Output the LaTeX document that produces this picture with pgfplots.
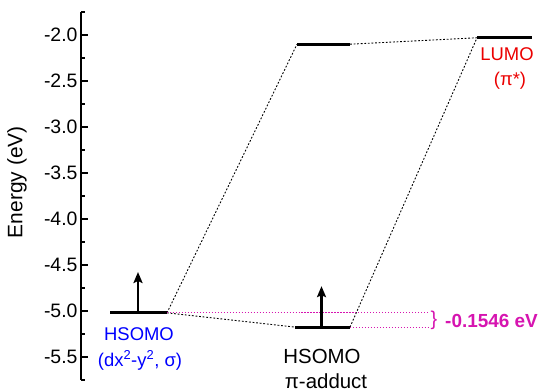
\documentclass[border=0pt]{standalone}
\usepackage{fontspec}
\setmainfont{Liberation Sans}
\usepackage{pgfplots}
\pgfplotsset{compat=1.18}
\usetikzlibrary{arrows.meta}
\definecolor{mag}{RGB}{214,20,176}
\definecolor{lblue}{RGB}{0,0,255}
\definecolor{lred}{RGB}{235,0,0}
\begin{document}
\begin{tikzpicture}
\path[use as bounding box] (0,0) rectangle (543bp,392bp);
\begin{axis}[
  at={(81bp,12bp)}, anchor=south west,
  scale only axis, width=462bp, height=368bp,
  xmin=81, xmax=543, ymin=-5.75, ymax=-1.75,
  axis x line=none, axis y line=left,
  axis line style={-, line width=1.5pt},
  tick align=inside,
  major tick length=6.5bp, minor tick length=4bp,
  every tick/.style={black, line width=1.4pt},
  ytick={-5.5,-5,...,-2},
  minor ytick={-5.75,-5.25,...,-1.75},
  yticklabel style={font=\fontsize{19.5}{21}\selectfont, /pgf/number format/fixed, /pgf/number format/fixed zerofill, /pgf/number format/precision=1},
  /pgf/number format/assume math mode=true,
  clip=false,
]
% levels
\addplot[black, line width=3.1pt] coordinates {(110,-5.02) (167,-5.02)};
\addplot[black, line width=3.1pt] coordinates {(295,-5.175) (350,-5.175)};
\addplot[black, line width=3.1pt] coordinates {(297,-2.10) (350,-2.10)};
\addplot[black, line width=3.1pt] coordinates {(477,-2.03) (532,-2.03)};
% connectors
\addplot[black, line width=0.9pt, dash pattern=on 1.8pt off 1.8pt] coordinates {(167,-5.02) (297,-2.10)};
\addplot[black, line width=0.9pt, dash pattern=on 1.8pt off 1.8pt] coordinates {(167,-5.02) (295,-5.175)};
\addplot[black, line width=0.9pt, dash pattern=on 1.8pt off 1.8pt] coordinates {(350,-2.10) (477,-2.03)};
\addplot[black, line width=0.9pt, dash pattern=on 1.8pt off 1.8pt] coordinates {(350,-5.175) (477,-2.03)};
% pink guides
\addplot[mag, line width=0.9pt, dash pattern=on 1.2pt off 1.8pt] coordinates {(167,-5.02) (428,-5.02)};
\addplot[mag, line width=0.9pt, dash pattern=on 1.2pt off 1.8pt] coordinates {(350,-5.175) (428,-5.175)};
% arrows
\addplot[black, line width=2.5pt, -{Stealth[length=11bp,width=9bp,inset=2bp]}] coordinates {(138,-5.02) (138,-4.576)};
\addplot[black, line width=2.5pt, -{Stealth[length=11bp,width=9bp,inset=2bp]}] coordinates {(321.5,-5.175) (321.5,-4.73)};
% labels
\node[rotate=90, font=\fontsize{21}{23}\selectfont] at (axis cs:17,-3.6) {Energy (eV)};
\node[anchor=base, lblue, font=\fontsize{18.5}{20}\selectfont] at (axis cs:139,-5.326) {HSOMO};
\node[anchor=base, lblue, font=\fontsize{18.5}{20}\selectfont] at (axis cs:140,-5.598) {(dx\textsuperscript{2}-y\textsuperscript{2}, σ)};
\node[anchor=base, black, font=\fontsize{20.5}{22}\selectfont] at (axis cs:322,-5.576) {HSOMO};
\node[anchor=base, black, font=\fontsize{20.5}{22}\selectfont] at (axis cs:326,-5.837) {π-adduct};
\node[anchor=base, lred, font=\fontsize{18.5}{20}\selectfont] at (axis cs:507,-2.272) {LUMO};
\node[anchor=base, lred, font=\fontsize{18.5}{20}\selectfont] at (axis cs:510,-2.545) {(π*)};
\node[mag, font=\fontsize{20}{22}\selectfont] at (axis cs:434,-5.098) {\}};
\node[anchor=base west, mag, inner sep=0pt, font=\fontsize{19}{21}\selectfont\bfseries] at (axis cs:445,-5.174) {-0.1546 eV};
\end{axis}
\end{tikzpicture}
\end{document}
